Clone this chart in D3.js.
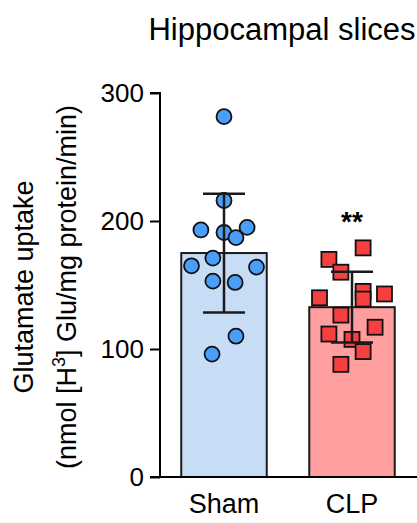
<!DOCTYPE html>
<html lang="en">
<head>
    <meta charset="UTF-8">
    <script src="https://d3js.org/d3.v7.min.js"></script>
    <title>Hippocampal slices</title>
    <style>
        body { margin: 0; background: #fff; font-family: "Liberation Sans", Arial, sans-serif; }
        svg { display: block; }
    </style>
</head>
<body>
    <svg id="chart" width="417" height="523"></svg>

    <script>
        const groups = ["Sham", "CLP"];
        const shamValues = [281.5, 216, 193, 191, 195, 187, 171, 165, 164, 153, 152, 110, 96];
        const shamJitter = [0, 0, -0.27, 0, 0.27, 0.14, -0.13, -0.38, 0.38, -0.13, 0.13, 0.14, -0.14];
        const clpValues = [179, 170, 160, 145, 140, 143, 139, 126.5, 117, 111.7, 107.5, 98, 88];
        const clpJitter = [0.13, -0.27, -0.13, 0.13, -0.38, 0.38, 0.13, -0.13, 0.27, -0.27, 0, 0.13, -0.13];
        const yTicks = [0, 100, 200, 300];

        const width = 417, height = 523;
        const svg = d3.select("#chart");

        const x = d3.scaleBand().domain(groups).range([160, 416])
            .paddingInner(0.332).paddingOuter(0.166);
        const y = d3.scaleLinear().domain([0, 300]).range([477, 93]);

        const series = [
            { name: "Sham", values: shamValues, jitter: shamJitter, bar: "#c7dcf5", mark: "#4b9ef7", shape: "circle" },
            { name: "CLP", values: clpValues, jitter: clpJitter, bar: "#ff9e9e", mark: "#f5403f", shape: "square" }
        ];
        series.forEach(s => {
            s.mean = d3.mean(s.values);
            s.sd = d3.deviation(s.values);
        });

        // bars
        svg.append("g")
            .selectAll("rect")
            .data(series)
            .join("rect")
            .attr("x", d => x(d.name))
            .attr("y", d => y(d.mean))
            .attr("width", x.bandwidth())
            .attr("height", d => y(0) - y(d.mean))
            .attr("fill", d => d.bar)
            .attr("stroke", "#1a1a1a")
            .attr("stroke-width", 2);

        // individual points
        const pts = svg.append("g");
        series.forEach(s => {
            const cx = i => x(s.name) + x.bandwidth() / 2 + s.jitter[i] * x.bandwidth();
            if (s.shape === "circle") {
                pts.selectAll(null)
                    .data(s.values)
                    .join("circle")
                    .attr("cx", (d, i) => cx(i))
                    .attr("cy", d => y(d))
                    .attr("r", 7.5)
                    .attr("fill", s.mark)
                    .attr("stroke", "#111")
                    .attr("stroke-width", 1.8);
            } else {
                pts.selectAll(null)
                    .data(s.values)
                    .join("rect")
                    .attr("x", (d, i) => cx(i) - 7.5)
                    .attr("y", d => y(d) - 7.5)
                    .attr("width", 15)
                    .attr("height", 15)
                    .attr("fill", s.mark)
                    .attr("stroke", "#111")
                    .attr("stroke-width", 1.8);
            }
        });

        // error bars (mean +/- SD)
        const err = svg.append("g").attr("stroke", "#1a1a1a").attr("stroke-width", 2.5);
        series.forEach(s => {
            const cx = x(s.name) + x.bandwidth() / 2;
            err.append("line")
                .attr("x1", cx).attr("x2", cx)
                .attr("y1", y(s.mean - s.sd)).attr("y2", y(s.mean + s.sd));
            [s.mean - s.sd, s.mean + s.sd].forEach(v => {
                err.append("line")
                    .attr("x1", cx - 21).attr("x2", cx + 21)
                    .attr("y1", y(v)).attr("y2", y(v));
            });
        });

        // significance
        const clp = series[1];
        svg.append("text")
            .attr("x", x("CLP") + x.bandwidth() / 2)
            .attr("y", y(clp.mean + clp.sd) - 41)
            .attr("text-anchor", "middle")
            .attr("font-size", 28)
            .attr("font-weight", "bold")
            .text("**");

        // y axis
        const yAxis = svg.append("g")
            .attr("transform", "translate(160,0)")
            .call(d3.axisLeft(y).tickValues(yTicks).tickSize(10).tickPadding(6));
        yAxis.select(".domain").attr("stroke", "#000").attr("stroke-width", 2)
            .attr("d", `M-10,${y(300)}H0V${y(0)}`);
        yAxis.selectAll(".tick line").attr("stroke", "#000").attr("stroke-width", 2);
        yAxis.selectAll(".tick text").attr("font-size", 26).attr("fill", "#000")
            .attr("font-family", "'Liberation Sans', Arial, sans-serif");

        // x axis
        const xAxis = svg.append("g")
            .attr("transform", `translate(0,${y(0)})`)
            .call(d3.axisBottom(x).tickSize(0).tickPadding(17));
        xAxis.select(".domain").attr("stroke", "#000").attr("stroke-width", 2)
            .attr("d", `M150,0H${width}`);
        xAxis.selectAll(".tick text").attr("font-size", 27).attr("fill", "#000")
            .attr("font-family", "'Liberation Sans', Arial, sans-serif");

        // title
        svg.append("text")
            .attr("x", 282)
            .attr("y", 40)
            .attr("text-anchor", "middle")
            .attr("font-size", 31)
            .text("Hippocampal slices");

        // y label
        const cy = 287;
        svg.append("text")
            .attr("transform", `translate(33,${cy}) rotate(-90)`)
            .attr("text-anchor", "middle")
            .attr("font-size", 27)
            .text("Glutamate uptake");
        const l2 = svg.append("text")
            .attr("transform", `translate(76,${cy}) rotate(-90)`)
            .attr("text-anchor", "middle")
            .attr("font-size", 27);
        l2.append("tspan").text("(nmol [H");
        l2.append("tspan").attr("font-size", 18).attr("dy", -11).text("3");
        l2.append("tspan").attr("dy", 11).text("] Glu/mg protein/min)");
    </script>
</body>
</html>
